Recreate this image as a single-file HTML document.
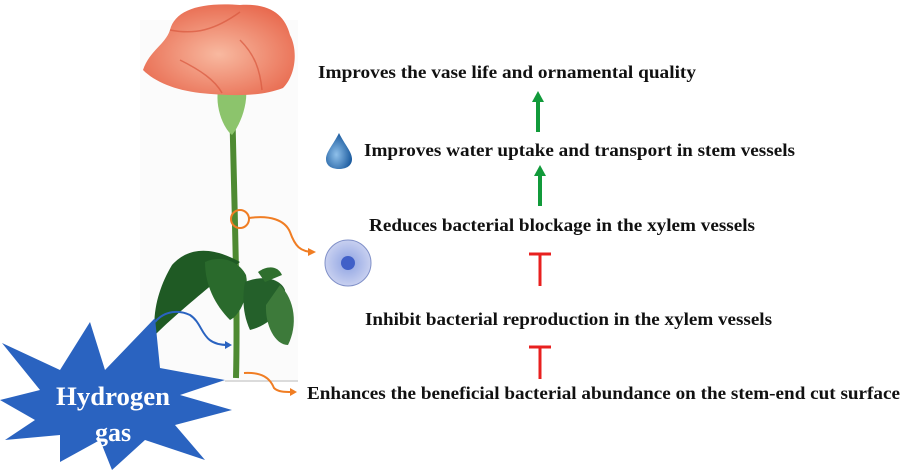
<!DOCTYPE html>
<html><head><meta charset="utf-8"><style>
html,body{margin:0;padding:0;background:#fff;width:901px;height:470px;overflow:hidden}
text{font-family:"Liberation Serif",serif;font-weight:bold;fill:#111}
</style></head><body>
<svg width="901" height="470" viewBox="0 0 901 470" xmlns="http://www.w3.org/2000/svg">
<defs>
<radialGradient id="petal" cx="50%" cy="55%" r="60%"><stop offset="0" stop-color="#f8b9a0"/><stop offset="1" stop-color="#e8694e"/></radialGradient>
<radialGradient id="drop" cx="40%" cy="60%" r="60%"><stop offset="0" stop-color="#8fc0ea"/><stop offset="1" stop-color="#1a5a9e"/></radialGradient>
<radialGradient id="cell" cx="50%" cy="50%" r="50%"><stop offset="0" stop-color="#3a5fc0"/><stop offset="0.3" stop-color="#9fb0e6"/><stop offset="1" stop-color="#c8d0f0"/></radialGradient>
</defs>
<rect x="140" y="20" width="158" height="362" fill="#fbfbfb"/>
<line x1="225" y1="381" x2="298" y2="381" stroke="#bbb" stroke-width="1"/>
<path d="M232 95 C234 200 238 300 236 378" stroke="#4e8a32" stroke-width="6" fill="none"/>
<path d="M240 262 C215 248 190 245 172 265 C160 285 152 310 155 335 C175 315 200 295 215 282 Z" fill="#1f5a24"/>
<path d="M205 262 C220 255 238 260 246 275 C250 295 240 315 230 320 C215 305 205 285 205 262 Z" fill="#2a6a2c"/>
<path d="M245 282 C262 275 280 278 285 290 C284 310 270 325 250 330 C243 315 242 298 245 282 Z" fill="#24602a"/>
<path d="M280 285 C295 300 298 325 288 345 C275 345 265 325 266 305 Z" fill="#3d7a3a"/>
<path d="M258 272 C268 265 278 266 282 275 L265 282 Z" fill="#2f6f2e"/>
<path d="M218 90 C215 110 225 130 232 135 C240 125 248 105 246 88 Z" fill="#8cc46c"/>
<path d="M143 70 C150 50 165 45 170 30 C175 10 200 2 240 5 C270 3 285 15 290 35 C298 50 296 75 283 88 C260 97 230 96 200 93 C175 90 155 82 143 70 Z" fill="url(#petal)"/>
<path d="M170 30 C195 35 215 30 240 12 M240 40 C255 55 260 70 262 90 M180 60 C200 70 215 80 222 93" stroke="#d9583e" stroke-width="1.5" fill="none" opacity="0.7"/>
<circle cx="240" cy="219" r="9" fill="none" stroke="#f07d23" stroke-width="2"/>
<path d="M249 218 C270 215 285 220 290 232 C295 246 300 252 314 252" stroke="#f07d23" stroke-width="2" fill="none"/>
<path d="M308 248 L316 252 L308 256 Z" fill="#f07d23"/>
<path d="M244 373 C262 372 270 378 274 388 C278 392 285 392 292 392" stroke="#f07d23" stroke-width="2" fill="none"/>
<path d="M290 388 L297 392 L290 396 Z" fill="#f07d23"/>
<path d="M155 322 C165 310 180 310 190 315 C205 325 200 345 228 345" stroke="#2a63c0" stroke-width="2" fill="none"/>
<path d="M225 341 L232 345 L225 349 Z" fill="#2a63c0"/>
<circle cx="348" cy="263" r="23" fill="url(#cell)" stroke="#8090c8" stroke-width="1"/>
<circle cx="348" cy="263" r="7" fill="#4060c8"/>
<polygon fill="#2a63c0" points="2,343 60,370 90,322 105,370 155,318 160,368 225,380 180,395 232,410 175,425 205,460 145,440 112,470 100,440 60,462 60,435 5,440 35,420 0,400 40,390" />
<text x="113" y="405" text-anchor="middle" font-size="26" style="fill:#fff" textLength="114" lengthAdjust="spacingAndGlyphs">Hydrogen</text>
<text x="113" y="441" text-anchor="middle" font-size="26" style="fill:#fff">gas</text>
<path d="M339 133 C345 145 352 152 352 159 C352 166 346 169 339 169 C332 169 326 166 326 159 C326 152 333 145 339 133 Z" fill="url(#drop)"/>
<text x="318" y="78" font-size="18" textLength="378" lengthAdjust="spacingAndGlyphs">Improves the vase life and ornamental quality</text>
<text x="364" y="156" font-size="18" textLength="431" lengthAdjust="spacingAndGlyphs">Improves water uptake and transport in stem vessels</text>
<text x="369" y="231" font-size="18" textLength="386" lengthAdjust="spacingAndGlyphs">Reduces bacterial blockage in the xylem vessels</text>
<text x="365" y="325" font-size="18" textLength="407" lengthAdjust="spacingAndGlyphs">Inhibit bacterial reproduction in the xylem vessels</text>
<text x="307" y="399" font-size="18" textLength="593" lengthAdjust="spacingAndGlyphs">Enhances the beneficial bacterial abundance on the stem-end cut surface</text>
<line x1="538" y1="132" x2="538" y2="100" stroke="#119a3a" stroke-width="4"/>
<path d="M532 102 L538 91 L544 102 Z" fill="#119a3a"/>
<line x1="540" y1="206" x2="540" y2="174" stroke="#119a3a" stroke-width="4"/>
<path d="M534 176 L540 165 L546 176 Z" fill="#119a3a"/>
<line x1="540" y1="254" x2="540" y2="286" stroke="#e8201f" stroke-width="3"/>
<line x1="529" y1="254" x2="551" y2="254" stroke="#e8201f" stroke-width="3"/>
<line x1="540" y1="347" x2="540" y2="379" stroke="#e8201f" stroke-width="3"/>
<line x1="529" y1="347" x2="551" y2="347" stroke="#e8201f" stroke-width="3"/>
</svg>
</body></html>
